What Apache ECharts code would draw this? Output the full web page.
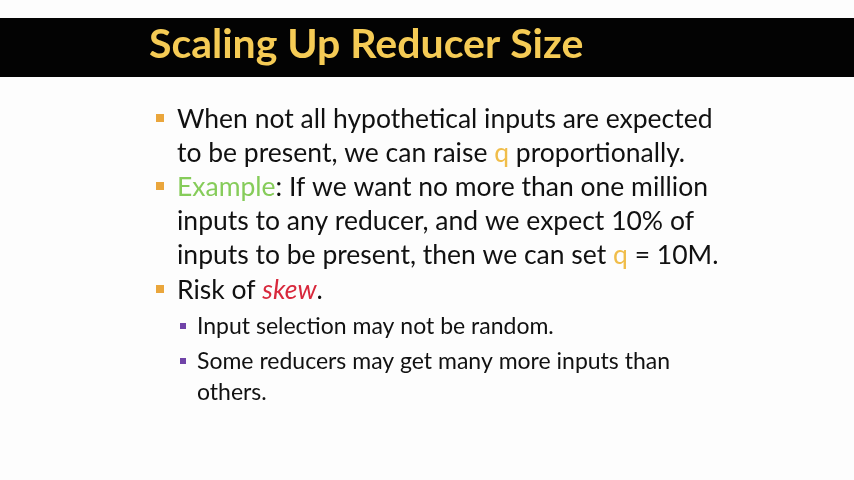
<!DOCTYPE html>
<html>
<head>
<meta charset="utf-8">
<script src="https://cdn.jsdelivr.net/npm/echarts@6/dist/echarts.min.js"></script>
<style>
  html, body { margin: 0; padding: 0; background: #fff; }
  #main { width: 854px; height: 480px; }
</style>
</head>
<body>
<div id="main"></div>
<script>
// slide text
const title = 'Scaling Up Reducer Size';
const mainLines = [
    '{t|When not all hypothetical inputs are expected}',
    '{t|to be present, we can raise }{y|q}{t| proportionally.}',
    '{g|Example}{t|: If we want no more than one million}',
    '{t|inputs to any reducer, and we expect 10% of}',
    '{t|inputs to be present, then we can set }{y|q}{t| = 10M.}',
    '{t|Risk of }{r|skew}{t|.}'
];
const mainLineY = [119, 153, 187, 221, 255, 290];
const mainBulletRows = [0, 2, 5];
const subLines = [
    'Input selection may not be random.',
    'Some reducers may get many more inputs than',
    'others.'
];
const subLineY = [327, 362, 393];
const subBulletRows = [0, 1];

const chart = echarts.init(document.getElementById('main'));
const font = 'Lato, "Open Sans", sans-serif';
const bodySize = 26.5;

const rich = {
    t: { fontSize: bodySize, fill: '#111', fontFamily: font },
    y: { fontSize: bodySize, fill: '#f0bd4a', fontFamily: font },
    g: { fontSize: bodySize, fill: '#86cc5a', fontFamily: font },
    r: { fontSize: bodySize, fill: '#d8283c', fontFamily: font, fontStyle: 'italic' }
};

const els = [
    { type: 'rect', shape: { x: 0, y: 0, width: 854, height: 480 }, style: { fill: '#fdfdfd' } },
    { type: 'rect', shape: { x: 0, y: 18, width: 854, height: 59 }, style: { fill: '#030303' } },
    {
        type: 'text', x: 149, y: 45,
        style: {
            text: title, fill: '#f5cb55', fontSize: 41, fontWeight: 'bold',
            fontFamily: font, verticalAlign: 'middle'
        }
    }
];

mainLines.forEach((line, i) => {
    els.push({
        type: 'text', x: 177, y: mainLineY[i],
        style: { text: line, rich: rich, verticalAlign: 'middle' }
    });
});
mainBulletRows.forEach(i => {
    els.push({
        type: 'rect', shape: { x: 156, y: mainLineY[i] - 5, width: 8, height: 8 },
        style: { fill: '#eaa63c' }
    });
});
subLines.forEach((line, i) => {
    els.push({
        type: 'text', x: 197, y: subLineY[i],
        style: { text: line, fill: '#111', fontSize: 23, fontFamily: font, verticalAlign: 'middle' }
    });
});
subBulletRows.forEach(i => {
    els.push({
        type: 'rect', shape: { x: 180, y: subLineY[i] - 4, width: 6, height: 6 },
        style: { fill: '#7043a8' }
    });
});

chart.setOption({
    animation: false,
    graphic: { elements: els }
});
</script>
</body>
</html>
